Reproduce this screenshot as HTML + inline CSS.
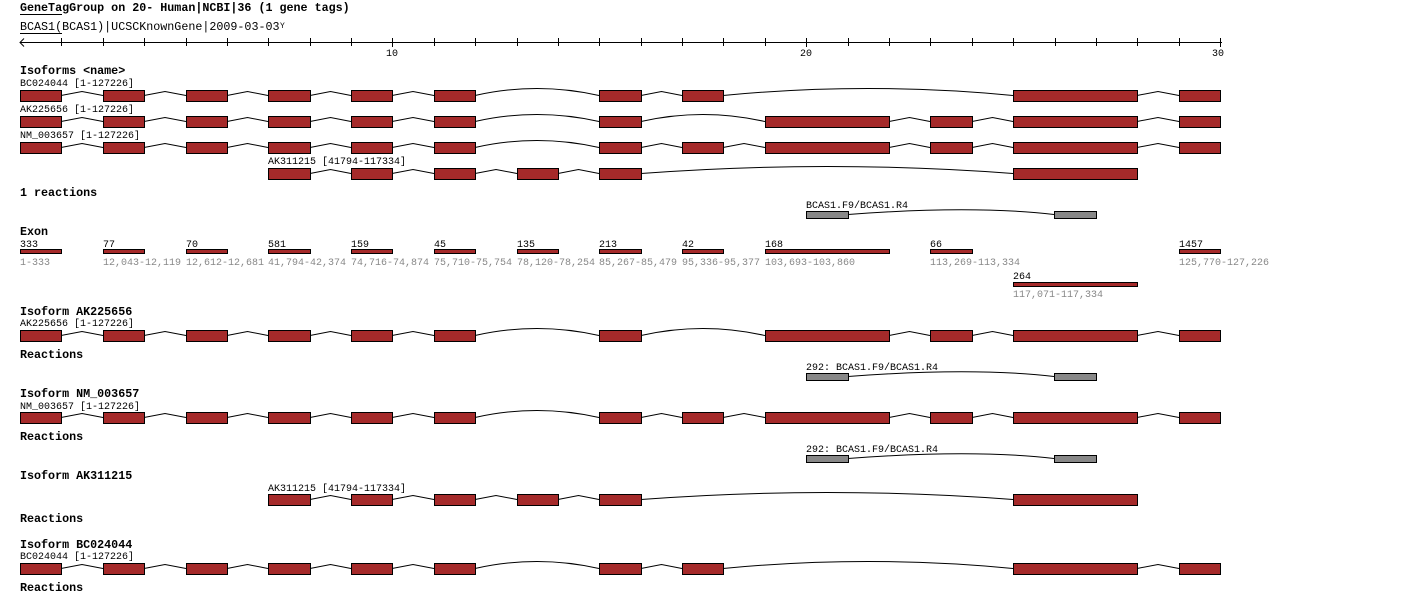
<!DOCTYPE html>
<html><head><meta charset="utf-8"><style>
body{margin:0;background:#fff;width:1420px;height:603px;overflow:hidden}
svg{display:block}
text{font-family:"Liberation Mono","DejaVu Sans Mono",monospace;font-size:10px;fill:#000}
.b{font-weight:bold;font-size:11.7px}
.t{font-size:11.7px}
.g{fill:#888}
</style></head><body>
<svg id="s" width="1420" height="603" xmlns="http://www.w3.org/2000/svg">
<text x="20" y="11" class="t" style="font-weight:bold">GeneTagGroup on 20- Human|NCBI|36 (1 gene tags)</text>
<line x1="20" y1="14.5" x2="62" y2="14.5" stroke="#000"/>
<text x="20" y="30" class="t">BCAS1(BCAS1)|UCSCKnownGene|2009-03-03</text>
<text x="280" y="28" style="font-size:8px">Y</text>
<line x1="20" y1="33.5" x2="62" y2="33.5" stroke="#000"/>
<line x1="20" y1="42.5" x2="1222" y2="42.5" stroke="#000"/>
<polyline points="24,38.5 20,42.5 24,46.5" fill="none" stroke="#000"/>
<text x="386" y="56">10</text><text x="800" y="56">20</text><text x="1212" y="56">30</text>
<text x="20" y="74" class="b">Isoforms &lt;name&gt;</text>
<text x="20" y="86">BC024044 [1-127226]</text>
<text x="20" y="112">AK225656 [1-127226]</text>
<text x="20" y="138">NM_003657 [1-127226]</text>
<text x="268" y="164">AK311215 [41794-117334]</text>
<text x="20" y="196" class="b">1 reactions</text>
<text x="806" y="208">BCAS1.F9/BCAS1.R4</text>
<text x="20" y="235" class="b">Exon</text>
<text x="20" y="247">333</text><text class="g" x="20" y="265">1-333</text>
<text x="103" y="247">77</text><text class="g" x="103" y="265">12,043-12,119</text>
<text x="186" y="247">70</text><text class="g" x="186" y="265">12,612-12,681</text>
<text x="268" y="247">581</text><text class="g" x="268" y="265">41,794-42,374</text>
<text x="351" y="247">159</text><text class="g" x="351" y="265">74,716-74,874</text>
<text x="434" y="247">45</text><text class="g" x="434" y="265">75,710-75,754</text>
<text x="517" y="247">135</text><text class="g" x="517" y="265">78,120-78,254</text>
<text x="599" y="247">213</text><text class="g" x="599" y="265">85,267-85,479</text>
<text x="682" y="247">42</text><text class="g" x="682" y="265">95,336-95,377</text>
<text x="765" y="247">168</text><text class="g" x="765" y="265">103,693-103,860</text>
<text x="930" y="247">66</text><text class="g" x="930" y="265">113,269-113,334</text>
<text x="1179" y="247">1457</text><text class="g" x="1179" y="265">125,770-127,226</text>
<text x="1013" y="279">264</text><text class="g" x="1013" y="297">117,071-117,334</text>
<text x="20" y="315" class="b">Isoform AK225656</text>
<text x="20" y="326">AK225656 [1-127226]</text>
<text x="20" y="358" class="b">Reactions</text>
<text x="806" y="370">292: BCAS1.F9/BCAS1.R4</text>
<text x="20" y="397" class="b">Isoform NM_003657</text>
<text x="20" y="409">NM_003657 [1-127226]</text>
<text x="20" y="440" class="b">Reactions</text>
<text x="806" y="452">292: BCAS1.F9/BCAS1.R4</text>
<text x="20" y="479" class="b">Isoform AK311215</text>
<text x="268" y="491">AK311215 [41794-117334]</text>
<text x="20" y="522" class="b">Reactions</text>
<text x="20" y="548" class="b">Isoform BC024044</text>
<text x="20" y="559">BC024044 [1-127226]</text>
<text x="20" y="591" class="b">Reactions</text>
<g id="shapes"></g>
</svg>
<script>
var NS="http://www.w3.org/2000/svg",G=document.getElementById("shapes");
function el(t,a){var e=document.createElementNS(NS,t);for(var k in a)e.setAttribute(k,a[k]);G.appendChild(e);return e;}
var U=41.38;function X(c){return Math.round(20+c*U);}
for(var k=1;k<=29;k++){var x=X(k)+0.5;el("line",{x1:x,y1:38,x2:x,y2:(k==9||k==19||k==29)?47:46,stroke:"#000"});}
var E={0:[0,1],2:[2,3],4:[4,5],6:[6,7],8:[8,9],10:[10,11],12:[12,13],14:[14,15],16:[16,17],18:[18,21],22:[22,23],24:[24,27],28:[28,29]};
function gene(list,y,h,fill){
 var bs=list.map(function(i){return [X(E[i][0]),X(E[i][1])];});
 for(var i=0;i<bs.length-1;i++){var a=bs[i][1],b=bs[i+1][0],cy=y+h/2,m=(a+b)/2;
  if((b-a)>60){el("path",{d:"M"+a+" "+cy+" Q"+m+" "+(cy-14)+" "+b+" "+cy,fill:"none",stroke:"#000"});}
  else el("polyline",{points:a+","+cy+" "+m+","+(cy-4)+" "+b+","+cy,fill:"none",stroke:"#000"});}
 bs.forEach(function(b){el("rect",{x:b[0]+0.5,y:y+0.5,width:b[1]-b[0],height:h,fill:fill,stroke:"#000"});});
}
var R="#a52a2a";
var BC=[0,2,4,6,8,10,14,16,24,28],AK=[0,2,4,6,8,10,14,18,22,24,28],NM=[0,2,4,6,8,10,14,16,18,22,24,28],A3=[6,8,10,12,14,24];
gene(BC,90,11,R);gene(AK,116,11,R);gene(NM,142,11,R);gene(A3,168,11,R);
function rxn(y){el("path",{d:"M848 "+(y+3.5)+" Q972 "+(y-6)+" 1054 "+(y+3.5),fill:"none",stroke:"#000"});
 el("rect",{x:806.5,y:y+0.5,width:42,height:7,fill:"#888",stroke:"#000"});el("rect",{x:1054.5,y:y+0.5,width:42,height:7,fill:"#888",stroke:"#000"});}
rxn(211);rxn(373);rxn(455);
[0,2,4,6,8,10,12,14,16,18,22,28].forEach(function(i){el("rect",{x:X(E[i][0])+0.5,y:249.5,width:X(E[i][1])-X(E[i][0]),height:4,fill:R,stroke:"#000"});});
el("rect",{x:X(24)+0.5,y:282.5,width:X(27)-X(24),height:4,fill:R,stroke:"#000"});
gene(AK,330,11,R);gene(NM,412,11,R);gene(A3,494,11,R);gene(BC,563,11,R);
</script>
</body></html>
